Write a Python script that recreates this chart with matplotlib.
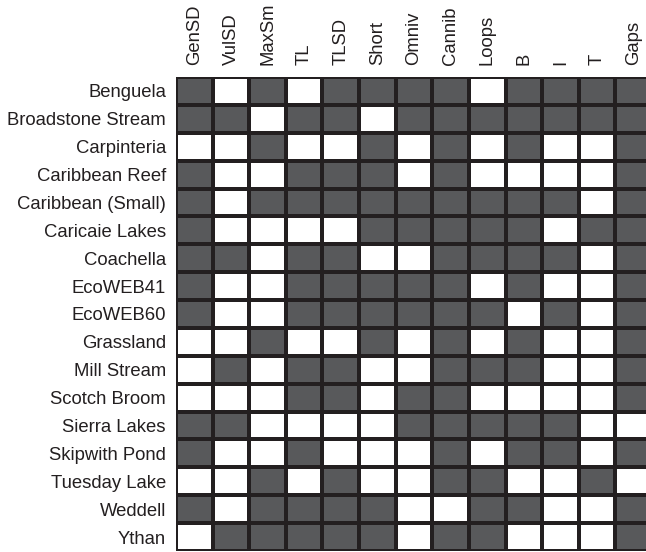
import matplotlib
matplotlib.use("Agg")
import matplotlib.pyplot as plt
import numpy as np
from matplotlib.colors import ListedColormap

plt.rcParams['font.family'] = ['Liberation Sans', 'DejaVu Sans']

columns = ["GenSD", "VulSD", "MaxSm", "TL", "TLSD", "Short", "Omniv",
           "Cannib", "Loops", "B", "I", "T", "Gaps"]
webs = ["Benguela", "Broadstone Stream", "Carpinteria", "Caribbean Reef",
        "Caribbean (Small)", "Caricaie Lakes", "Coachella", "EcoWEB41",
        "EcoWEB60", "Grassland", "Mill Stream", "Scotch Broom", "Sierra Lakes",
        "Skipwith Pond", "Tuesday Lake", "Weddell", "Ythan"]
# 1 = dark (filled), 0 = white
benguela     = [1,0,1,0,1,1,1,1,0,1,1,1,1]
broadstone   = [1,1,0,1,1,0,1,1,1,1,1,1,1]
carpinteria  = [0,0,1,0,0,1,0,1,0,1,0,0,1]
carib_reef   = [1,0,0,1,1,1,0,1,0,0,0,0,1]
carib_small  = [1,0,1,1,1,1,1,1,1,1,1,0,1]
caricaie     = [1,0,0,0,0,1,1,1,1,1,0,1,1]
coachella    = [1,1,0,1,1,0,0,1,1,1,1,0,1]
ecoweb41     = [1,0,0,1,1,1,1,1,0,1,0,0,1]
ecoweb60     = [1,0,0,1,1,1,1,1,1,0,1,0,1]
grassland    = [0,0,1,0,0,1,0,1,0,1,0,0,1]
mill_stream  = [0,1,0,1,1,0,0,1,1,1,0,0,1]
scotch_broom = [0,0,0,1,1,0,1,1,0,0,0,0,1]
sierra_lakes = [1,1,0,0,0,0,1,1,1,1,1,0,0]
skipwith     = [1,0,0,1,0,0,0,1,0,1,1,0,1]
tuesday_lake = [0,0,1,0,1,0,0,1,1,0,0,1,0]
weddell      = [1,0,1,1,1,1,0,0,1,1,0,0,1]
ythan        = [0,1,1,1,1,1,0,1,1,0,0,0,1]

values = np.array([benguela, broadstone, carpinteria, carib_reef, carib_small,
                   caricaie, coachella, ecoweb41, ecoweb60, grassland,
                   mill_stream, scotch_broom, sierra_lakes, skipwith,
                   tuesday_lake, weddell, ythan])

W, H = 646, 552
fig = plt.figure(figsize=(W / 100, H / 100), dpi=100)
left, right, top, bottom = 176, 652, 77, 551
ax = fig.add_axes([left / W, (H - bottom) / H, (right - left) / W, (bottom - top) / H])

cmap = ListedColormap(["#ffffff", "#58595b"])
ax.pcolormesh(values, cmap=cmap, vmin=0, vmax=1,
              edgecolors="#231f20", linewidth=1.6)
ax.set_xlim(0, len(columns))
ax.set_ylim(len(webs), 0)

ax.set_xticks(np.arange(len(columns)) + 0.5)
ax.set_xticklabels(columns, rotation=90, fontsize=13.3, color="#231f20")
ax.set_yticks(np.arange(len(webs)) + 0.5)
ax.set_yticklabels(webs, fontsize=13.3, color="#231f20")
ax.xaxis.tick_top()
ax.tick_params(axis="both", length=0)
ax.tick_params(axis="x", pad=8.6)
ax.tick_params(axis="y", pad=7.2)
for s in ax.spines.values():
    s.set_visible(False)

fig.savefig("out.png", dpi=100)
